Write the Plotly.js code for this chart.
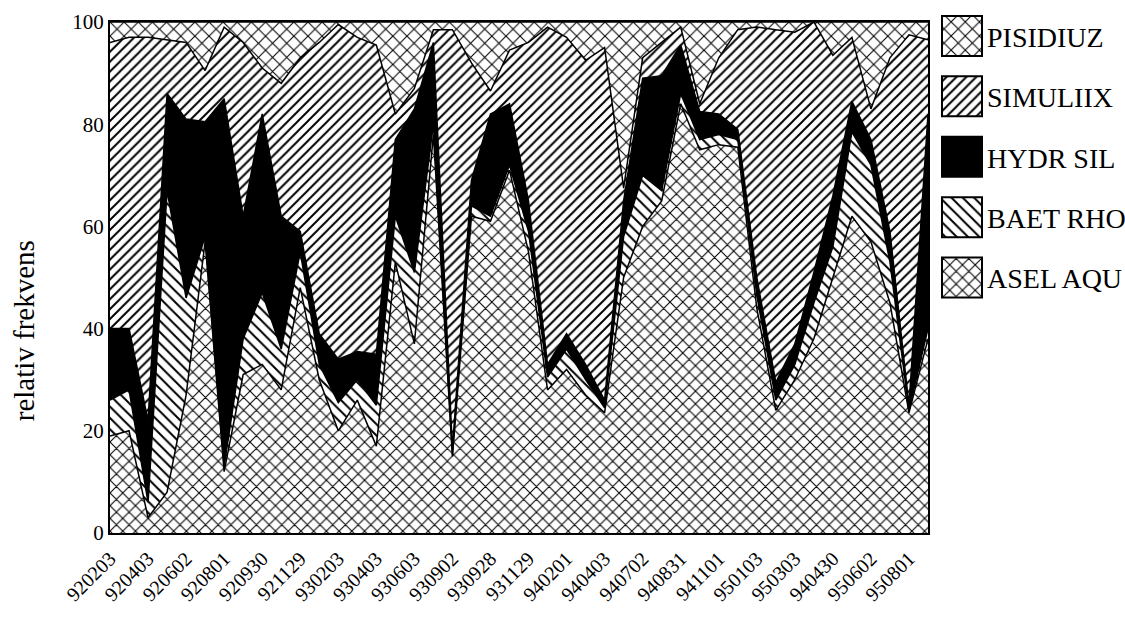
<!DOCTYPE html>
<html>
<head>
<meta charset="utf-8">
<script src="https://cdn.plot.ly/plotly-3.0.1.min.js"></script>
<style>
  html, body { margin: 0; padding: 0; background: #fff; }
  #chart { width: 1125px; height: 635px; }
</style>
</head>
<body>
<div id="chart"></div>
<script>
// Sample index (44 samplings); every second one is labelled on the axis
const sampleIndex = Array.from({length: 44}, (_, i) => i);
const tickIndex = [0,2,4,6,8,10,12,14,16,18,20,22,24,26,28,30,32,34,36,38,40,42];
const tickLabels = ["920203","920403","920602","920801","920930","921129","930203","930403",
  "930603","930902","930928","931129","940201","940403","940702","940831","941101",
  "950103","950303","940430","950602","950801"];

// Relative frequencies (%) per taxon
const aselAqu  = [19,20,3,8,27,57,12,31,33,28,48,30,20,26,17,53,37,78,15,62,61,71,55,28,32,27,23.5,50,60,65,84,75,76,75.5,44,24,30,38,50,62,57,45,23.5,38];
const baetRho  = [7,8,3,59,19,1,1,7,14,8,7,3,5.5,4,8,9,14,2,0.5,2,1,1,4,2.5,4,3,1,8,10,2,2,2,2,1.5,2.5,2,3,7,6,16.5,15,8,0.5,2];
const hydrSil  = [14,12,16,19,35,22.5,72,24,35,26,4,6,8.5,5.5,10,15,32,16,1,5,20,12,6,2.5,3,3,1.5,7,19,22.5,9.5,5.5,4,2,3.5,3.5,4,6,10,6,5,6,1,42];
const simuliix = [56,57,75,10.5,15,10,14,34,9,26,34,57,65.5,61.5,60.5,5,4,2.5,82,23,4.5,10.5,31,66,58,59.5,69,2.5,4,6.5,3.5,1.5,11,19.5,49,69,61,49,27.5,12.5,6,34,72.5,14.5];
const pisidiuz = [4,3,3,3.5,4,9.5,1,4,9,12,7,4,0.5,3,4.5,18,13,1.5,1.5,8,13.5,5.5,4,1,3,7.5,5,32.5,7,4,1,16,7,1.5,1,1.5,2,0,6.5,3,17,7,2.5,3.5];

const seriesNames = ["ASEL AQU","BAET RHO","HYDR SIL","SIMULIIX","PISIDIUZ"];
const seriesValues = [aselAqu, baetRho, hydrSil, simuliix, pisidiuz];
const patterns = [
  {shape: "x", size: 9, solidity: 0.22},
  {shape: "\\", size: 8, solidity: 0.25},
  null,
  {shape: "/", size: 7, solidity: 0.28},
  {shape: "x", size: 10, solidity: 0.2}
];

const FONT = "Liberation Serif, Times New Roman, serif";

const traces = seriesNames.map((name, k) => {
  const t = {
    type: "scatter",
    mode: "lines",
    x: sampleIndex,
    y: seriesValues[k],
    name: name,
    stackgroup: "one",
    legendgroup: "g" + k,
    legendrank: 1000 - k,
    line: {color: "black", width: 1.5},
    hoverinfo: "skip"
  };
  if (patterns[k]) {
    t.fillcolor = "white";
    t.fillpattern = Object.assign({fgcolor: "black", bgcolor: "white"}, patterns[k]);
  } else {
    t.fillcolor = "black";
  }
  return t;
});

const layout = {
  width: 1125, height: 635,
  margin: {l: 110, r: 197, t: 22, b: 102, autoexpand: false},
  paper_bgcolor: "white", plot_bgcolor: "white",
  font: {family: FONT, color: "black", size: 20},
  showlegend: true,
  legend: {
    x: 1.011, xanchor: "left", y: 1.021, yanchor: "top",
    traceorder: "grouped", tracegroupgap: 21, itemwidth: 40,
    font: {family: FONT, size: 28, color: "black"},
    bgcolor: "rgba(0,0,0,0)"
  },
  xaxis: {
    range: [0, 43], showgrid: false, zeroline: false,
    tickmode: "array", tickvals: tickIndex, ticktext: tickLabels,
    tickangle: -45, ticks: "", tickfont: {family: FONT, size: 20},
    ticklabelstandoff: 4,
    showline: true, linecolor: "black", linewidth: 2, mirror: true
  },
  yaxis: {
    range: [0, 100], showgrid: false, zeroline: false,
    tickvals: [0,20,40,60,80,100], ticks: "",
    tickfont: {family: FONT, size: 21},
    showline: true, linecolor: "black", linewidth: 2, mirror: true
  },
  annotations: [{
    text: "relativ frekvens", textangle: -90,
    xref: "paper", yref: "paper", x: -0.105, y: 0.395,
    xanchor: "center", yanchor: "middle", showarrow: false,
    font: {family: FONT, size: 29, color: "black"}
  }]
};

Plotly.newPlot("chart", traces, layout, {staticPlot: true}).then(() => {
  document.querySelectorAll(".legend .traces").forEach(tr => {
    const sq = "M5,-20h40v40h-40z";
    const f = tr.querySelector(".legendfill path");
    if (f) f.setAttribute("d", sq);
    const l = tr.querySelector(".legendlines path");
    if (l) { l.setAttribute("d", sq); l.style.fill = "none"; l.style.strokeWidth = "2px"; }
  });
});
</script>
</body>
</html>
